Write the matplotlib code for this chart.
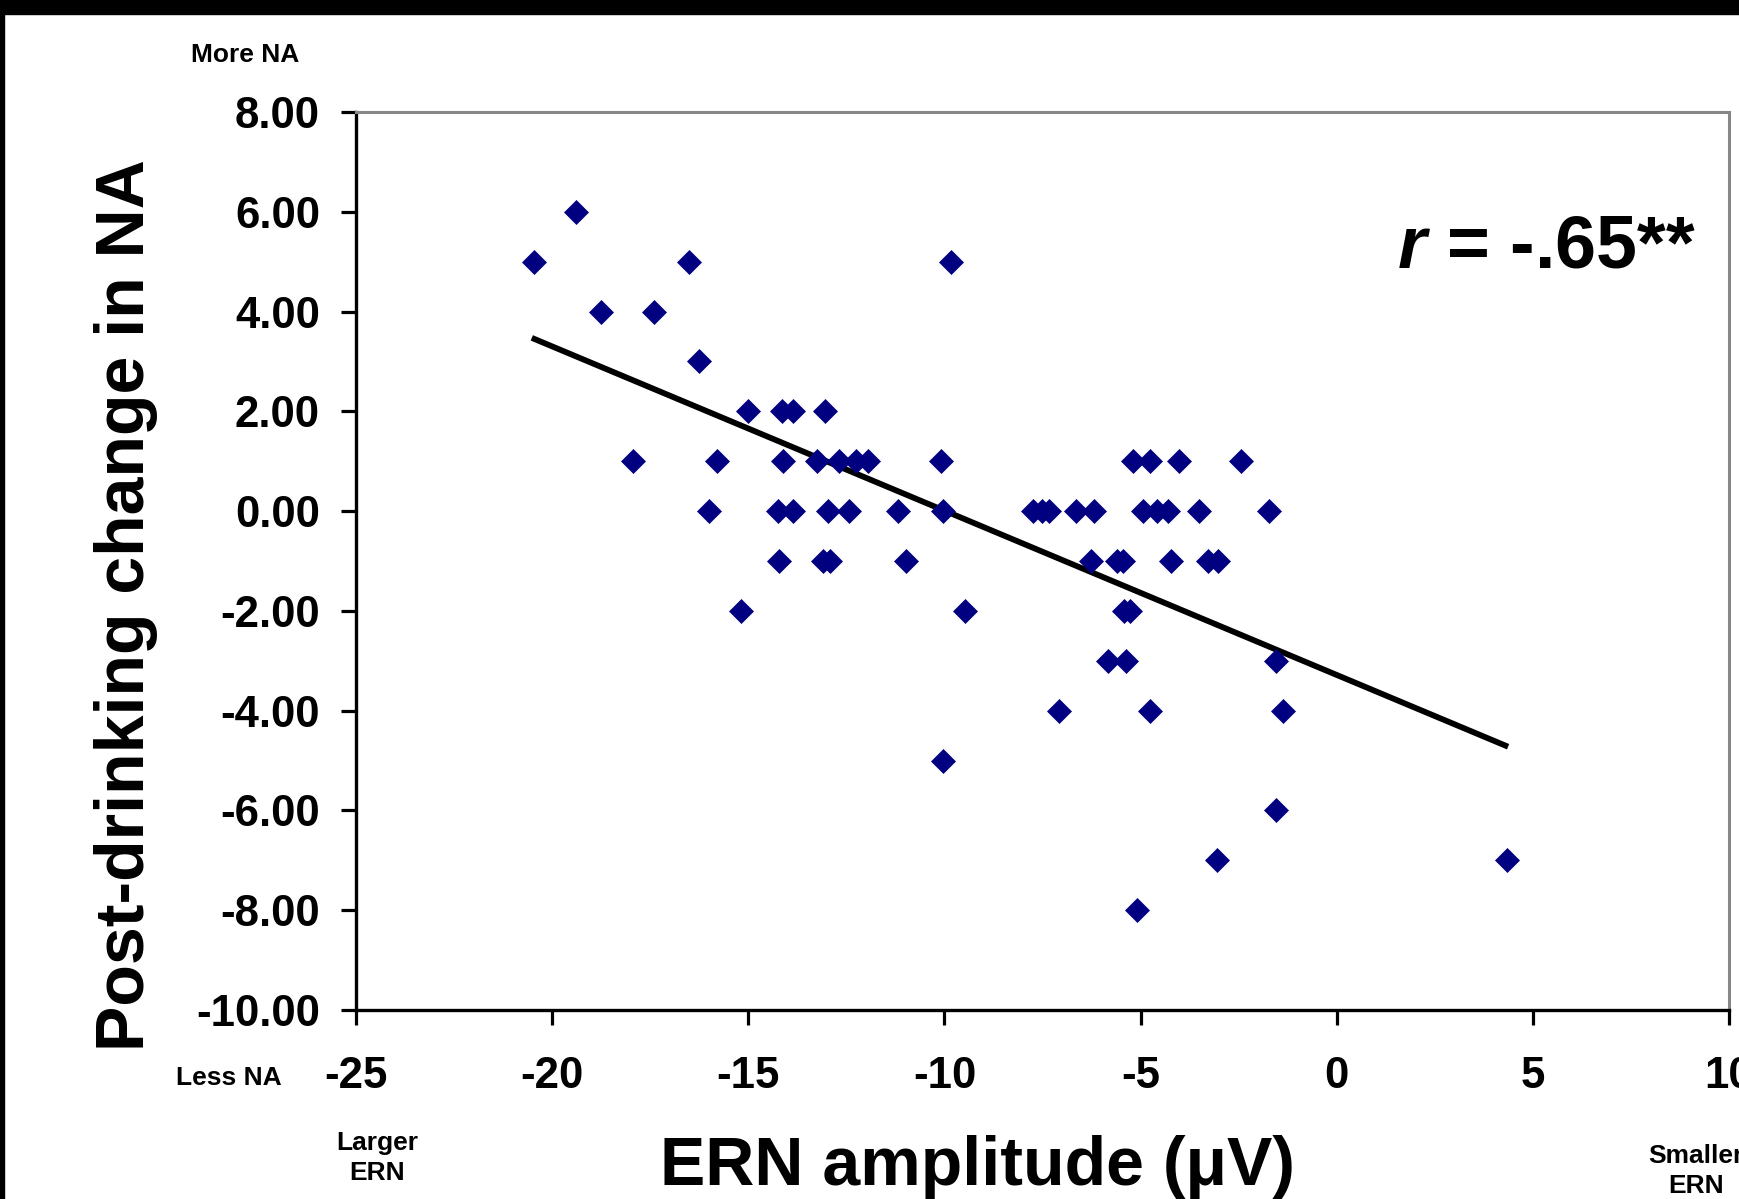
import numpy as np
import matplotlib
matplotlib.use('Agg')
import matplotlib.pyplot as plt
from matplotlib.patches import Rectangle
from matplotlib.ticker import FormatStrFormatter

plt.rcParams['font.family'] = ['Liberation Sans', 'DejaVu Sans']
plt.rcParams['font.weight'] = 'bold'
plt.rcParams['axes.unicode_minus'] = False
plt.rcParams['mathtext.fontset'] = 'custom'
plt.rcParams['mathtext.it'] = 'Liberation Sans:italic:bold'
plt.rcParams['mathtext.rm'] = 'Liberation Sans:bold'

# ERN amplitude (x) vs post-drinking change in NA (y)
ern = [-19.38,
       -20.45, -16.52, -9.84,
       -18.76, -17.41,
       -16.26,
       -15.01, -14.13, -13.85, -13.04,
       -17.95, -15.81, -14.12, -13.24, -12.68, -12.26, -11.96, -10.10,
       -5.20, -4.77, -4.03, -2.43,
       -16.00, -14.25, -13.85, -12.96, -12.42, -11.18, -10.03, -7.73, -7.52,
       -7.34, -6.64, -6.18, -4.93, -4.59, -4.30, -3.51, -1.73,
       -14.21, -13.09, -12.92, -10.99, -6.27, -5.59, -5.45, -4.22, -3.27, -3.03,
       -15.18, -9.47, -5.42, -5.28,
       -5.84, -5.38, -1.54,
       -7.07, -4.75, -1.37,
       -10.03,
       -1.54,
       -3.06, 4.34,
       -5.10]
na_change = [6,
             5, 5, 5,
             4, 4,
             3,
             2, 2, 2, 2,
             1, 1, 1, 1, 1, 1, 1, 1,
             1, 1, 1, 1,
             0, 0, 0, 0, 0, 0, 0, 0, 0,
             0, 0, 0, 0, 0, 0, 0, 0,
             -1, -1, -1, -1, -1, -1, -1, -1, -1, -1,
             -2, -2, -2, -2,
             -3, -3, -3,
             -4, -4, -4,
             -5,
             -6,
             -7, -7,
             -8]

# regression line end points
trend_x = [-20.45, 4.30]
trend_y = [3.45, -4.70]

W, H = 1740, 1199


def px(x, y):
    return x / W, 1 - y / H


fig = plt.figure(figsize=(W / 100, H / 100), dpi=100)
ax = fig.add_axes([356 / W, 1 - 1010 / H, (1729 - 356) / W, (1010 - 112) / H])

ax.plot(trend_x, trend_y, color='black', lw=4.2, zorder=2)
ax.plot(ern, na_change, 'D', color='#000080', ms=12, mec='#000080', mew=0.5,
        zorder=3, clip_on=False)

ax.set_xlim(-25, 10)
ax.set_ylim(-10, 8)
ax.set_xticks(np.arange(-25, 11, 5))
ax.set_yticks(np.arange(-10, 9, 2))
ax.yaxis.set_major_formatter(FormatStrFormatter('%.2f'))
ax.tick_params(axis='both', direction='out', length=11, width=2.3, labelsize=31.5)
ax.tick_params(axis='x', pad=22)
ax.tick_params(axis='y', pad=15)

for side in ['left', 'bottom']:
    ax.spines[side].set_color('black')
    ax.spines[side].set_linewidth(2.4)
for side in ['top', 'right']:
    ax.spines[side].set_color('#878787')
    ax.spines[side].set_linewidth(2.2)

# axis titles
fig.text(*px(144, 605), 'Post-drinking change in NA', fontsize=49, rotation=90,
         rotation_mode='anchor', ha='center', va='baseline')
fig.text(*px(978, 1185), 'ERN amplitude (μV)', fontsize=49, ha='center', va='baseline')

ax.text(0.976, 0.827, '$r$ = -.65**', transform=ax.transAxes, fontsize=53,
        ha='right', va='baseline')

# end annotations
fig.text(*px(191, 62), 'More NA', fontsize=19, ha='left', va='baseline')
fig.text(*px(176, 1085), 'Less NA', fontsize=19, ha='left', va='baseline')
fig.text(*px(377, 1150), 'Larger', fontsize=19, ha='center', va='baseline')
fig.text(*px(377, 1180), 'ERN', fontsize=19, ha='center', va='baseline')
fig.text(*px(1696, 1163), 'Smaller', fontsize=19, ha='center', va='baseline')
fig.text(*px(1696, 1193), 'ERN', fontsize=19, ha='center', va='baseline')

# black frame of the slide screenshot
fig.add_artist(Rectangle((0, 1 - 14 / H), 1, 14 / H, transform=fig.transFigure,
                         color='black', zorder=10))
fig.add_artist(Rectangle((0, 0), 4 / W, 1, transform=fig.transFigure,
                         color='black', zorder=10))

fig.savefig('out.png', dpi=100)
